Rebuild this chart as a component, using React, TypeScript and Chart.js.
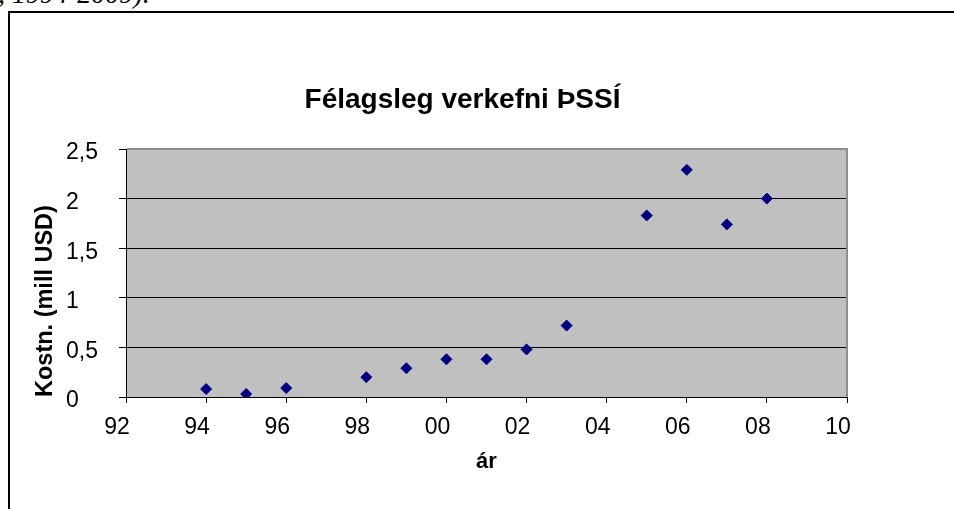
import React, { useEffect, useRef } from 'react';
import { Chart, registerables } from 'chart.js';

Chart.register(...registerables);

const years = [1994, 1995, 1996, 1998, 1999, 2000, 2001, 2002, 2003, 2005, 2006, 2007, 2008];
const costs = [0.08, 0.03, 0.09, 0.2, 0.29, 0.38, 0.38, 0.48, 0.72, 1.83, 2.29, 1.74, 2.0];
const xTickLabels = ['92', '94', '96', '98', '00', '02', '04', '06', '08', '10'];
const yTickLabels = ['0', '0,5', '1', '1,5', '2', '2,5'];
const chartTitle = 'Félagsleg verkefni ÞSSÍ';
const xTitle = 'ár';
const yTitle = 'Kostn. (mill USD)';
const captionText = ', 1994-2009).';

const FONT = '"Liberation Sans", Arial, sans-serif';

const plotBackground = {
  id: 'plotBackground',
  beforeDraw(chart: any) {
    const { ctx, chartArea: a } = chart;
    ctx.save();
    ctx.fillStyle = '#C0C0C0';
    ctx.fillRect(a.left, a.top, a.right - a.left, a.bottom - a.top);
    ctx.restore();
  },
  beforeDatasetsDraw(chart: any) {
    const { ctx, chartArea: a } = chart;
    ctx.save();
    ctx.strokeStyle = '#8E8E8E';
    ctx.lineWidth = 2;
    ctx.beginPath();
    ctx.moveTo(a.left + 1, a.top);
    ctx.lineTo(a.right, a.top);
    ctx.lineTo(a.right, a.bottom);
    ctx.stroke();
    ctx.restore();
  },
};

export default function App() {
  const canvasRef = useRef<HTMLCanvasElement | null>(null);

  useEffect(() => {
    const canvas = canvasRef.current;
    if (!canvas) return;
    const chart = new Chart(canvas, {
      type: 'scatter',
      data: {
        datasets: [
          {
            data: years.map((x, i) => ({ x, y: costs[i] })),
            xAxisID: 'x',
            yAxisID: 'y',
            pointStyle: 'rectRot',
            pointRadius: 5.5,
            pointHoverRadius: 5.5,
            pointBackgroundColor: '#000080',
            pointBorderColor: '#000080',
            pointBorderWidth: 1,
            showLine: false,
          },
        ],
      },
      options: {
        responsive: false,
        animation: false,
        devicePixelRatio: 1,
        events: [],
        layout: { padding: { top: 0, left: 0, right: 29, bottom: 32 } },
        plugins: {
          legend: { display: false },
          tooltip: { enabled: false },
          title: {
            display: true,
            text: chartTitle,
            color: '#000',
            font: { family: FONT, size: 28, weight: 'bold' },
            padding: { top: 83.7, bottom: 31.7 },
          },
        },
        scales: {
          x: {
            type: 'linear',
            position: 'bottom',
            min: 1992,
            max: 2010,
            ticks: {
              stepSize: 2,
              autoSkip: false,
              maxRotation: 0,
              callback: (_v: any, i: number) => xTickLabels[i] ?? '',
              font: { family: FONT, size: 23 },
              color: '#000',
              padding: 10.7,
              labelOffset: -9,
            },
            grid: { drawOnChartArea: false, drawTicks: true, tickLength: 6, color: '#000', lineWidth: 1 },
            border: { display: true, color: '#000', width: 1 },
            title: {
              display: true,
              text: xTitle,
              color: '#000',
              font: { family: FONT, size: 22, weight: 'bold' },
              padding: { top: 0, bottom: 2 },
            },
            afterFit(s: any) {
              s.height = 80;
            },
          },
          y: {
            type: 'linear',
            position: 'left',
            weight: 0,
            min: 0,
            max: 2.5,
            ticks: {
              stepSize: 0.5,
              callback: (_v: any, i: number) => yTickLabels[i] ?? '',
              font: { family: FONT, size: 23 },
              color: '#000',
              crossAlign: 'far',
              labelOffset: 4,
            },
            grid: { color: '#000', lineWidth: 1, drawTicks: true, tickLength: 7 },
            border: { display: true, color: '#000', width: 1 },
            afterFit(s: any) {
              s.width = 60;
            },
          },
          yt: {
            type: 'linear',
            position: 'left',
            weight: 10,
            min: 0,
            max: 1,
            grid: { display: false },
            border: { display: false },
            ticks: { display: false },
            title: {
              display: true,
              text: yTitle,
              color: '#000',
              align: 'start',
              font: { family: FONT, size: 23.5, weight: 'bold' },
              padding: { top: 31, bottom: 0 },
            },
            afterFit(s: any) {
              s.width = 66;
            },
          },
          yr: {
            type: 'linear',
            position: 'right',
            min: 0,
            max: 1,
            grid: { display: false },
            border: { display: false },
            ticks: { display: false },
            afterFit(s: any) {
              s.width = 78;
            },
          },
        },
      } as any,
      plugins: [plotBackground],
    });
    return () => chart.destroy();
  }, []);

  return (
    <div
      style={{
        position: 'absolute',
        left: 0,
        top: 0,
        width: 954,
        height: 509,
        overflow: 'hidden',
        background: '#fff',
      }}
    >
      <div
        style={{
          position: 'absolute',
          left: -2,
          top: -20,
          fontFamily: '"Liberation Serif", "Times New Roman", serif',
          fontStyle: 'italic',
          fontSize: 28,
          lineHeight: '28px',
          whiteSpace: 'nowrap',
          color: '#000',
        }}
      >
        {captionText}
      </div>
      <div
        style={{
          position: 'absolute',
          left: 8,
          top: 11,
          width: 1000,
          height: 600,
          border: '2px solid #000',
          boxSizing: 'border-box',
        }}
      />
      <canvas
        ref={canvasRef}
        width={954}
        height={509}
        style={{ position: 'absolute', left: 0, top: 0, width: 954, height: 509 }}
      />
    </div>
  );
}
